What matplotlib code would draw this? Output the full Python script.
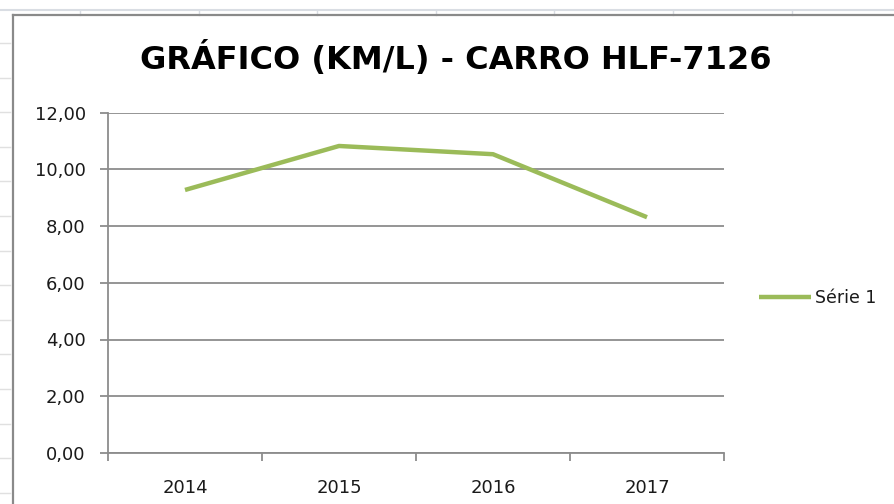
import numpy as np
import matplotlib
matplotlib.use('Agg')
from matplotlib import pyplot as plt
from matplotlib.lines import Line2D

# Values
years = ['2014', '2015', '2016', '2017']
km_per_litre = [9.27, 10.82, 10.53, 8.31]
y_ticks = [0, 2, 4, 6, 8, 10, 12]
series_name = 'Série 1'
title = 'GRÁFICO (KM/L) - CARRO HLF-7126'

W, H = 894, 504
LINE_GREEN = '#9bbb59'
GRID_GREY = '#8c8c8c'
TEXT = '#1a1a1a'


def fx(px):
    return px / W


def fy(py):
    # pixel row from the top -> figure fraction
    return 1 - py / H


def main():
    fig = plt.figure(figsize=(W / 100, H / 100), dpi=100)
    fig.patch.set_facecolor('white')

    # spreadsheet behind the chart: light cell lines + chart frame
    sheet = '#d9dde3'
    fig.add_artist(Line2D([0, 1], [fy(10), fy(10)], color=sheet, lw=1.5))
    for cx in np.arange(80, W, 118.6):
        fig.add_artist(Line2D([fx(cx), fx(cx)], [fy(10), fy(15)], color=sheet, lw=1))
    for ry in np.arange(43, H, 34.6):
        fig.add_artist(Line2D([0, fx(10)], [fy(ry), fy(ry)], color='#e0e0e0', lw=1))
    frame = '#8a8a8a'
    fig.add_artist(Line2D([fx(13), fx(13)], [0, fy(15)], color=frame, lw=1.6))
    fig.add_artist(Line2D([fx(13), 1], [fy(15), fy(15)], color=frame, lw=1.6))

    left, right, top, bottom = 108, 724, 112.5, 453
    ax = fig.add_axes([fx(left), fy(bottom), fx(right - left), (bottom - top) / H])

    x = np.arange(len(years)) + 0.5
    ax.plot(x, km_per_litre, color=LINE_GREEN, lw=3.2, solid_capstyle='butt',
            label=series_name)

    ax.set_xlim(0, len(years))
    ax.set_ylim(0, 12)
    ax.set_yticks(y_ticks)
    ax.set_yticklabels([f'{v:.2f}'.replace('.', ',') for v in y_ticks])
    ax.yaxis.grid(True, color=GRID_GREY, lw=1.3)
    ax.set_axisbelow(True)

    ax.set_xticks(np.arange(len(years) + 1))
    ax.set_xticklabels([])
    ax.set_xticks(x, minor=True)
    ax.set_xticklabels(years, minor=True)

    for s in ['top', 'right']:
        ax.spines[s].set_visible(False)
    for s in ['left', 'bottom']:
        ax.spines[s].set_color(GRID_GREY)
        ax.spines[s].set_linewidth(1.3)

    ax.tick_params(axis='both', which='major', length=6, width=1.3,
                   color=GRID_GREY, direction='out')
    ax.tick_params(axis='y', labelsize=13, labelcolor=TEXT, pad=10)
    ax.tick_params(axis='x', which='minor', length=0, labelsize=13,
                   labelcolor=TEXT, pad=19)

    fig.text(fx(456), fy(59), title, ha='center', va='center',
             fontsize=23, fontweight='bold', color='black')

    leg = ax.legend(loc='center left', bbox_to_anchor=(fx(759), fy(298)),
                    bbox_transform=fig.transFigure, frameon=False,
                    fontsize=12.5, handlelength=3.0, handletextpad=0.2,
                    borderaxespad=0, borderpad=0)
    for t in leg.get_texts():
        t.set_color(TEXT)

    fig.savefig('out.png', dpi=100, facecolor='white')
    plt.close(fig)


if __name__ == '__main__':
    main()
